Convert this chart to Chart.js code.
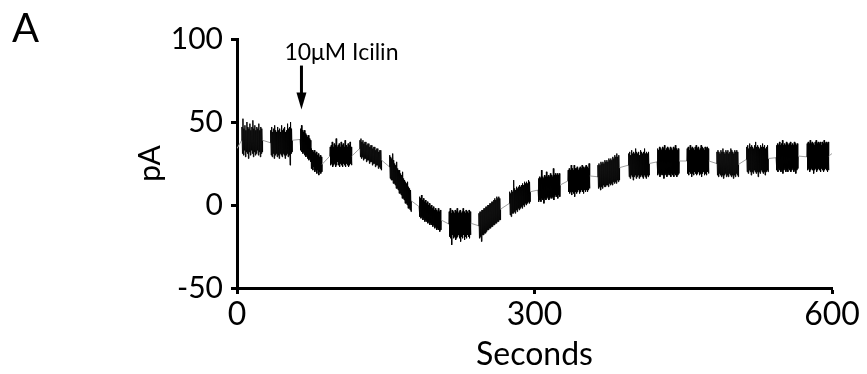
<!DOCTYPE html>
<html>
<head>
<meta charset="utf-8">
<script src="https://cdn.jsdelivr.net/npm/chart.js@4.4.1/dist/chart.umd.min.js"></script>
<style>
  html, body { margin: 0; padding: 0; background: #fff; }
  canvas { display: block; }
</style>
</head>
<body>
<canvas id="c" width="867" height="374"></canvas>
<script>
// ---- Data (seconds / pA) ----
// Start time (s) of each recorded noisy burst
const burstStart = [5, 34, 64, 75, 94, 124, 154, 184, 214, 244, 275, 304, 334, 364, 395, 424, 454, 484, 514, 544, 575];
// Upper envelope of each burst, one value per second
const upperEnvelope = [
  [47,52,46,48,45,50,47,46,49,45,47,51,46,48,45,47,46,49,45,47,46],
  [45,47,44,46,48,45,44,47,45,46,44,48,45,46,47,44,45,49,46,47,50,46],
  [46,48,45,44,45,43,42,41,42,40,39],
  [34,33,32,33,31,32,30,31,29,30,29],
  [35,36,38,35,37,36,40,35,36,37,35,38,36,37,35,39,36,35,37,36,38,35],
  [39,40,38,39,37,38,38,36,37,37,35,36,36,34,35,35,33,34,34,32,33,33],
  [30,29,28,31,27,25,24,26,22,21,21,19,18,20,16,15,14,13,14,11,10,9],
  [5,4,6,3,4,2,3,1,2,0,1,-1,0,-2,-1,-3,-2,-3,-4,-2,-4,-3],
  [-4,-2,-5,-3,-4,-5,-3,-4,-2,-5,-4,-3,-5,-4,-2,-4,-5,-3,-4,-5,-3,-4],
  [-5,-4,-4,-3,-3,-2,-2,-1,-1,0,0,1,1,2,2,3,4,3,5,4,5,4],
  [8,7,9,8,15,10,9,11,10,11,12,11,12,13,12,14,13,14,13,15,14],
  [16,17,16,21,17,16,18,17,20,17,18,17,19,18,17,22,18,19,18,19,18,19],
  [21,22,21,24,22,21,24,22,22,23,21,22,23,22,24,23,22,23,24,23,22,25],
  [24,25,24,26,25,26,25,27,26,27,26,28,27,28,27,29,28,30,29,31,29,30],
  [31,32,30,33,31,32,31,34,32,31,32,30,33,32,31,32,34,31,32,31,32],
  [34,33,35,34,33,35,34,36,33,34,35,34,33,35,34,33,35,34,36,34,33,34],
  [34,35,33,36,34,35,34,33,35,36,34,35,33,34,36,35,34,33,35,34,35,34],
  [32,33,32,31,33,32,34,32,31,33,32,33,31,32,34,33,32,31,33,32,33,32],
  [35,36,34,37,35,36,35,34,36,38,35,36,35,34,36,35,37,35,36,34,35,36],
  [36,37,36,38,36,37,39,36,37,36,38,37,36,37,38,36,37,36,38,37,36,37],
  [37,38,37,39,37,38,37,36,38,39,37,38,37,38,36,38,37,39,37,38,37,38]
];
// Lower envelope of each burst, one value per second
const lowerEnvelope = [
  [31,30,33,29,32,31,28,32,30,33,31,29,32,30,31,33,30,32,29,31,32],
  [30,29,31,28,30,31,29,30,28,31,30,29,31,30,28,30,31,29,30,24,31,32],
  [33,32,31,32,30,29,30,28,27,28,26],
  [22,21,23,20,21,19,21,18,20,19,20],
  [24,25,23,24,25,23,24,26,24,23,25,24,23,25,24,23,25,24,23,24,25,24],
  [29,28,29,27,28,28,26,27,27,25,26,26,24,25,25,23,24,24,22,23,22,21],
  [16,15,15,13,13,12,10,10,9,7,7,6,4,4,3,1,1,0,-2,-2,-3,-4],
  [-7,-8,-7,-9,-8,-10,-9,-10,-11,-10,-12,-11,-12,-13,-12,-14,-13,-15,-14,-15,-16,-15],
  [-19,-20,-24,-18,-20,-19,-21,-20,-19,-18,-20,-22,-19,-20,-18,-21,-19,-20,-18,-19,-20,-18],
  [-20,-19,-22,-18,-18,-17,-17,-16,-15,-15,-14,-14,-13,-13,-12,-12,-11,-11,-10,-10,-9,-9],
  [-6,-7,-5,-5,-4,-5,-3,-4,-2,-3,-2,-1,-2,0,-1,1,0,1,2,1,2],
  [2,3,2,4,3,1,4,3,4,5,3,4,5,4,5,3,5,6,5,4,6,5],
  [8,7,8,6,8,7,5,8,7,8,9,7,8,9,8,7,9,8,9,8,9,10],
  [10,11,9,11,10,12,11,11,12,12,11,13,12,13,12,14,13,14,13,15,14,15],
  [17,16,18,17,15,17,18,16,17,18,16,17,18,17,16,18,17,16,18,17,18],
  [18,19,17,18,19,18,16,18,19,17,18,19,18,17,19,18,17,19,18,17,18,19],
  [19,18,20,19,17,19,18,20,19,18,19,20,18,19,17,19,20,18,19,18,20,19],
  [18,17,19,18,17,18,16,18,19,17,18,17,19,18,17,18,16,18,17,19,18,17],
  [20,19,21,20,18,20,19,21,20,19,20,17,20,19,21,20,19,20,18,20,21,20],
  [21,20,22,21,20,21,19,21,22,20,21,20,22,21,20,21,22,20,21,19,21,22],
  [21,22,20,21,22,21,19,21,22,20,21,22,21,20,22,21,20,21,22,21,20,21]
];
const traceStart = [0, 34];   // [s, pA]
const traceEnd = [600, 31];   // [s, pA]

const xTicks = [0, 300, 600];
const yTicks = [-50, 0, 50, 100];

const drugLabel = '10\u03bcM Icilin';
const drugTime = 65;          // s, arrow position
const arrowTopValue = 84;     // pA
const arrowTipValue = 57.5;   // pA

// ---- Build the trace ----
const trace = [{x: traceStart[0], y: traceStart[1]}];
burstStart.forEach((t0, b) => {
  const hi = upperEnvelope[b], lo = lowerEnvelope[b];
  const n = Math.min(hi.length, lo.length);
  trace.push({x: t0 - 0.3, y: (hi[0] + lo[0]) / 2});
  for (let i = 0; i < n; i++) {
    trace.push({x: t0 + i, y: hi[i]});
    trace.push({x: t0 + i + 0.5, y: lo[i]});
  }
  trace.push({x: t0 + n - 0.2, y: (hi[n - 1] + lo[n - 1]) / 2});
});
trace.push({x: traceEnd[0], y: traceEnd[1]});

const FONT = 'Lato, "Open Sans", "DejaVu Sans", sans-serif';

const annotationPlugin = {
  id: 'annot',
  afterDraw(chart) {
    const ctx = chart.ctx;
    const xs = chart.scales.x, ys = chart.scales.y;
    ctx.save();
    // Panel letter
    ctx.fillStyle = '#000';
    ctx.font = '40px ' + FONT;
    ctx.textAlign = 'left';
    ctx.textBaseline = 'alphabetic';
    ctx.fillText('A', 12, 42);
    // Arrow
    const ax = xs.getPixelForValue(drugTime);
    const yTop = ys.getPixelForValue(arrowTopValue);
    const yTip = ys.getPixelForValue(arrowTipValue);
    ctx.strokeStyle = '#000';
    ctx.lineWidth = 3;
    ctx.beginPath();
    ctx.moveTo(ax, yTop);
    ctx.lineTo(ax, yTip - 14);
    ctx.stroke();
    ctx.beginPath();
    ctx.moveTo(ax - 5, yTip - 17);
    ctx.lineTo(ax + 5, yTip - 17);
    ctx.lineTo(ax, yTip);
    ctx.closePath();
    ctx.fill();
    // Label
    ctx.font = '23px ' + FONT;
    ctx.textAlign = 'center';
    ctx.fillText(drugLabel, ax + 40, yTop - 6);
    ctx.restore();
  }
};

new Chart(document.getElementById('c'), {
  type: 'line',
  data: {
    datasets: [{
      data: trace,
      borderColor: '#000',
      borderWidth: 1,
      pointRadius: 0,
      tension: 0,
      fill: false,
      segment: {
        borderColor: c => (c.p1.parsed.x - c.p0.parsed.x > 1.5 ? '#a0a0a0' : '#000')
      }
    }]
  },
  options: {
    responsive: false,
    animation: false,
    devicePixelRatio: 1,
    parsing: true,
    layout: { padding: { left: 0, right: 35, top: 39, bottom: 0 } },
    plugins: { legend: { display: false }, tooltip: { enabled: false } },
    scales: {
      x: {
        type: 'linear',
        min: 0, max: 600,
        afterBuildTicks: s => { s.ticks = xTicks.map(v => ({value: v})); },
        afterFit: s => { s.height = 86; },
        grid: { display: true, drawOnChartArea: false, drawTicks: true, tickLength: 6, tickWidth: 3, tickColor: '#000' },
        border: { display: true, width: 3, color: '#000' },
        ticks: { color: '#000', font: { family: FONT, size: 32 }, padding: 1, maxRotation: 0 },
        title: { display: true, text: 'Seconds', color: '#000', font: { family: FONT, size: 32 }, padding: { top: 2, bottom: 0 } }
      },
      y: {
        type: 'linear',
        min: -50, max: 100,
        afterBuildTicks: s => { s.ticks = yTicks.map(v => ({value: v})); },
        afterFit: s => { s.width = 237; },
        grid: { display: true, drawOnChartArea: false, drawTicks: true, tickLength: 6, tickWidth: 3, tickColor: '#000' },
        border: { display: true, width: 3, color: '#000' },
        ticks: { color: '#000', font: { family: FONT, size: 30 }, padding: 8 },
        title: { display: true, text: 'pA', color: '#000', font: { family: FONT, size: 30 }, padding: { top: 132, bottom: 0 } }
      }
    }
  },
  plugins: [annotationPlugin]
});
</script>
</body>
</html>
